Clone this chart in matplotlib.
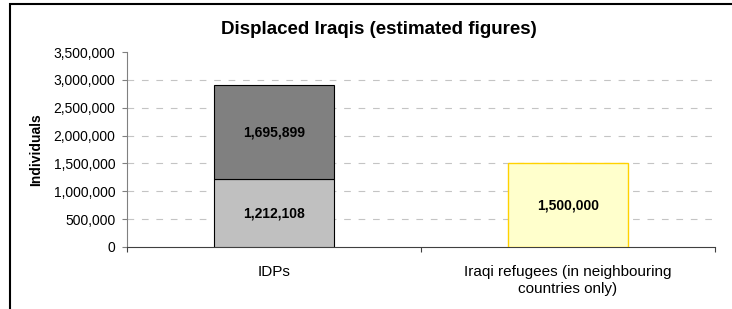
import matplotlib.pyplot as plt
import matplotlib.ticker as ticker
from matplotlib.patches import Rectangle

plt.rcParams['font.family'] = ['Liberation Sans', 'DejaVu Sans']

categorias = ["IDPs", "Iraqi refugees (in neighbouring\ncountries only)"]
idp_inferior = [1212108, 0]
idp_superior = [1695899, 0]
refugiados = [0, 1500000]

fig = plt.figure(figsize=(7.32, 3.09), dpi=100)
ax = fig.add_axes([127 / 732, 1 - 247 / 309, (715 - 127) / 732, (247 - 52) / 309])

# moldura da figura (cortada na direita e embaixo)
fig.patches.append(Rectangle((10 / 732, -0.05), 1.1, 1 - 4 / 309 + 0.05,
                             transform=fig.transFigure, fill=False,
                             edgecolor='black', linewidth=1.5))

x = [0, 1]
largura = 0.405

ax.bar(x[0], idp_inferior[0], width=largura, color='#C0C0C0', edgecolor='black', linewidth=0.8, zorder=3)
ax.bar(x[0], idp_superior[0], bottom=idp_inferior[0], width=largura, color='#808080',
       edgecolor='black', linewidth=0.8, zorder=3)
ax.bar(x[1], refugiados[1], width=largura, color='#FFFFCC', edgecolor='#FFD200', linewidth=1.0, zorder=3)

ax.text(x[0], idp_inferior[0] / 2, f"{idp_inferior[0]:,}", ha='center', va='center',
        fontsize=10, fontweight='bold', zorder=4)
ax.text(x[0], idp_inferior[0] + idp_superior[0] / 2, f"{idp_superior[0]:,}", ha='center', va='center',
        fontsize=10, fontweight='bold', zorder=4)
ax.text(x[1], refugiados[1] / 2, f"{refugiados[1]:,}", ha='center', va='center',
        fontsize=10, fontweight='bold', zorder=4)

ax.set_xlim(-0.5, 1.5)
ax.set_ylim(0, 3500000)
ax.yaxis.set_major_locator(ticker.MultipleLocator(500000))
ax.yaxis.set_major_formatter(ticker.FuncFormatter(lambda v, _: f"{int(v):,}"))

# grade tracejada sem a linha do topo
for v in range(500000, 3500000, 500000):
    ax.axhline(v, color='#C4C4C4', linestyle=(0, (6, 7)), linewidth=0.8, zorder=1)

ax.set_xticks([-0.5, 0.5, 1.5], minor=False)
ax.set_xticklabels([])
ax.set_xticks(x, minor=True)
ax.set_xticklabels(categorias, minor=True, fontsize=11, linespacing=1.25)
ax.tick_params(axis='x', which='minor', length=0, pad=13)
ax.tick_params(axis='x', which='major', length=3.5, color='#404040')
ax.tick_params(axis='y', length=3.5, color='#808080', labelsize=10, pad=5)

for lado in ['top', 'right']:
    ax.spines[lado].set_visible(False)
ax.spines['left'].set_color('#808080')
ax.spines['bottom'].set_color('#404040')

ax.set_ylabel("Individuals", fontsize=10, fontweight='bold', labelpad=7)
fig.text(379 / 732, 1 - 30 / 309, "Displaced Iraqis (estimated figures)", ha='center', va='center',
         fontsize=13.5, fontweight='bold')

fig.savefig('out.png', dpi=100)
